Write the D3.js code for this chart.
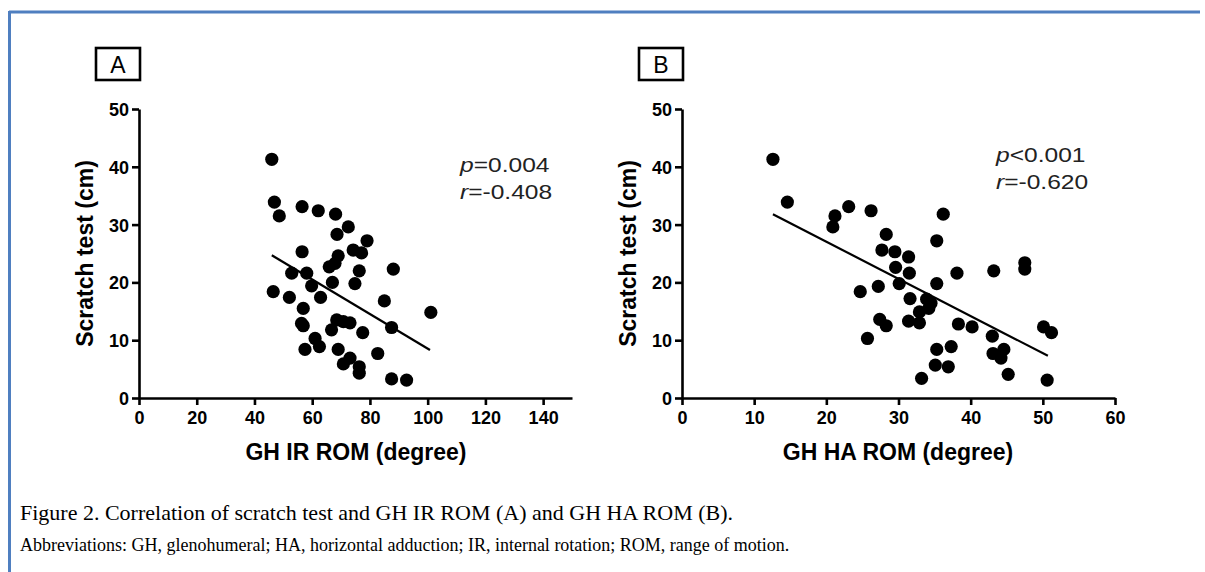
<!DOCTYPE html>
<html lang="en">
<head>
<meta charset="UTF-8">
<title>Figure 2</title>
<style>
  body { margin: 0; background: #fff; }
  svg { display: block; }
</style>
</head>
<body>
<div id="wrapper"></div>
<script src="https://d3js.org/d3.v7.min.js"></script>
<script>
// ---- data ----
// panel A: GH IR ROM (degree) vs scratch test (cm)
const irX = [46, 46.9, 48.6, 56.5, 62.1, 68.1, 72.5, 68.6, 79, 56.5, 69, 74.2, 77.1, 65.9, 67.9,
  88.1, 76.3, 52.9, 58.1, 67, 74.8, 59.8, 46.5, 52.1, 62.9, 85, 56.9, 101.1, 56.3, 56.9,
  68.5, 70.8, 73.1, 66.7, 87.5, 77.5, 61, 62.5, 57.5, 69, 82.7, 73.1, 70.8, 76.3, 76.3, 87.5, 92.7];
const irY = [41.3, 33.9, 31.5, 33.1, 32.4, 31.8, 29.6, 28.3, 27.2, 25.3, 24.6, 25.6, 25.1, 22.7, 23.3,
  22.3, 22, 21.6, 21.6, 20, 19.8, 19.4, 18.4, 17.4, 17.4, 16.8, 15.5, 14.8, 12.9, 12.5,
  13.5, 13.2, 13, 11.8, 12.2, 11.3, 10.3, 8.9, 8.4, 8.4, 7.7, 6.9, 5.9, 5.4, 4.3, 3.3, 3.1];
const irFit = [[46, 24.7], [100.8, 8.3]];

// panel B: GH HA ROM (degree) vs scratch test (cm)
const haX = [12.6, 14.6, 23.1, 21.2, 26.2, 20.9, 28.3, 27.7, 29.5, 31.4, 36.2, 35.3, 29.6, 31.5,
  27.2, 30.1, 24.7, 31.6, 27.4, 28.3, 31.4, 25.7, 47.5, 47.5, 38.1, 43.2, 35.3, 33.9, 34.5,
  34.2, 32.9, 32.9, 38.3, 40.2, 50.1, 51.2, 43, 35.3, 37.3, 43.1, 44.6, 44.2, 35.1, 36.9,
  45.2, 33.2, 50.6];
const haY = [41.3, 33.9, 33.1, 31.5, 32.4, 29.6, 28.3, 25.6, 25.3, 24.4, 31.8, 27.2, 22.6, 21.6,
  19.3, 19.8, 18.4, 17.2, 13.6, 12.5, 13.3, 10.3, 23.4, 22.3, 21.6, 22, 19.8, 17.1, 16.4,
  15.5, 14.9, 13, 12.8, 12.3, 12.3, 11.3, 10.7, 8.4, 8.9, 7.7, 8.4, 6.9, 5.7, 5.4,
  4.1, 3.4, 3.1];
const haFit = [[12.6, 31.8], [50.7, 7.3]];

const yTicks = [0, 10, 20, 30, 40, 50];
const irTicks = [0, 20, 40, 60, 80, 100, 120, 140];
const haTicks = [0, 10, 20, 30, 40, 50, 60];

const captionMain = "Figure 2. Correlation of scratch test and GH IR ROM (A) and GH HA ROM (B).";
const captionAbbr = "Abbreviations: GH, glenohumeral; HA, horizontal adduction; IR, internal rotation; ROM, range of motion.";

// ---- drawing ----
const W = 1205, H = 572;
const svg = d3.select('#wrapper').append('svg')
  .attr('width', W).attr('height', H);

const font = "Arial, 'Liberation Sans', sans-serif";
const serif = "'Times New Roman', 'Liberation Serif', serif";

// blue frame (top and left)
svg.append('line').attr('x1', 9).attr('x2', 1200).attr('y1', 12).attr('y2', 12)
  .attr('stroke', '#4f7fc0').attr('stroke-width', 3);
svg.append('line').attr('x1', 9.5).attr('x2', 9.5).attr('y1', 11).attr('y2', H)
  .attr('stroke', '#4f7fc0').attr('stroke-width', 3);

function panel(opt) {
  const g = svg.append('g');
  const x = d3.scaleLinear().domain(opt.xDomain).range([opt.left, opt.right]);
  const y = d3.scaleLinear().domain([0, 50]).range([398, 109]);

  // y axis
  const yAxis = d3.axisLeft(y).tickValues(yTicks).tickSizeInner(7).tickSizeOuter(0).tickPadding(3);
  const ya = g.append('g').attr('transform', `translate(${opt.left},0)`).call(yAxis);
  // x axis
  const xAxis = d3.axisBottom(x).tickValues(opt.xTicks).tickSizeInner(7).tickSizeOuter(0).tickPadding(5);
  const xa = g.append('g').attr('transform', `translate(0,398)`).call(xAxis);

  [ya, xa].forEach(a => {
    a.selectAll('.domain').attr('stroke', '#000').attr('stroke-width', 2.6);
    a.selectAll('.tick line').attr('stroke', '#000').attr('stroke-width', 2.6);
    a.selectAll('.tick text').attr('fill', '#000')
      .style('font-family', font).style('font-size', '18px').style('font-weight', 'bold');
  });
  ya.selectAll('.tick text').attr('dy', '0.36em');
  xa.selectAll('.tick text').attr('dy', '0.8em');

  // dots
  g.append('g').selectAll('circle')
    .data(opt.xs.map((d, i) => [d, opt.ys[i]]))
    .join('circle')
    .attr('cx', d => x(d[0])).attr('cy', d => y(d[1]))
    .attr('r', 6.6).attr('fill', '#000');

  // regression line
  g.append('path')
    .attr('d', d3.line().x(d => x(d[0])).y(d => y(d[1]))(opt.fit))
    .attr('stroke', '#000').attr('stroke-width', 2.2).attr('fill', 'none');

  // axis titles
  g.append('text')
    .attr('transform', `translate(${opt.left - 46},${(109 + 398) / 2}) rotate(-90)`)
    .attr('text-anchor', 'middle')
    .style('font-family', font).style('font-size', '23px').style('font-weight', 'bold')
    .text('Scratch test (cm)');
  g.append('text')
    .attr('x', opt.titleX).attr('y', 460)
    .attr('text-anchor', 'middle')
    .style('font-family', font).style('font-size', '23px').style('font-weight', 'bold')
    .text(opt.xTitle);

  // panel letter box
  g.append('rect').attr('x', opt.left - 43).attr('y', 48).attr('width', 44).attr('height', 32)
    .attr('fill', 'none').attr('stroke', '#000').attr('stroke-width', 2.6);
  g.append('text').attr('x', opt.left - 21).attr('y', 73).attr('text-anchor', 'middle')
    .style('font-family', font).style('font-size', '23px')
    .text(opt.letter);

  // stats (text in the source is slightly stretched sideways)
  [[opt.pSym, opt.pText, 0], [opt.rSym, opt.rText, 27]].forEach(([sym, txt, dy]) => {
    const t = g.append('text')
      .attr('transform', `translate(${opt.statX},${opt.statY + dy}) scale(1.17,1)`)
      .style('font-family', font).style('font-size', '21px').attr('fill', '#222');
    t.append('tspan').style('font-style', 'italic').text(sym);
    t.append('tspan').text(txt);
  });
}

panel({
  letter: 'A', left: 139, right: 572, xDomain: [0, 150], xTicks: irTicks,
  xs: irX, ys: irY, fit: irFit, xTitle: 'GH IR ROM (degree)', titleX: 356,
  statX: 460, statY: 172, pSym: 'p', pText: '=0.004', rSym: 'r', rText: '=-0.408'
});
panel({
  letter: 'B', left: 682, right: 1115, xDomain: [0, 60], xTicks: haTicks,
  xs: haX, ys: haY, fit: haFit, xTitle: 'GH HA ROM (degree)', titleX: 898,
  statX: 996, statY: 162, pSym: 'p', pText: '<0.001', rSym: 'r', rText: '=-0.620'
});

// caption
svg.append('text').attr('x', 20).attr('y', 520)
  .style('font-family', serif).style('font-size', '22px')
  .text(captionMain);
svg.append('text').attr('x', 20).attr('y', 551)
  .style('font-family', serif).style('font-size', '18px')
  .text(captionAbbr);
</script>
</body>
</html>
